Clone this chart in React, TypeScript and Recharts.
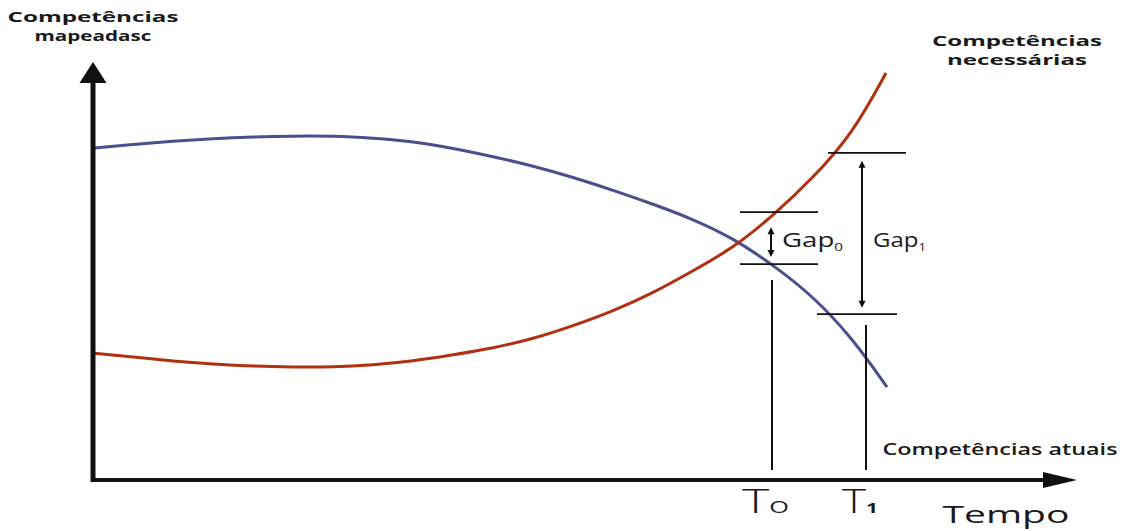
import { LineChart, Line, XAxis, YAxis, ReferenceLine, ReferenceDot } from "recharts";

// tempo (0-100) and nível de competência (0-100)
const timeMapped = [0, 4, 8, 12, 16, 20, 24, 28, 32, 36, 40, 44, 48, 52, 56, 60, 64, 68, 72, 76, 79.4];
const levelMapped = [79.0, 79.9, 80.7, 81.3, 81.7, 81.9, 81.9, 81.4, 80.6, 79.0, 77.0, 74.8, 72.1, 69.0, 65.7, 62.1, 57.6, 51.2, 43.8, 33.6, 22.1];
const timeNeeded = [0, 4, 8, 12, 16, 20, 24, 28, 32, 36, 40, 44, 48, 52, 56, 60, 64, 68, 72, 76, 79.3];
const levelNeeded = [30.2, 29.3, 28.3, 27.6, 27.1, 26.9, 26.9, 27.4, 28.3, 29.8, 31.4, 33.6, 36.7, 40.2, 44.5, 49.8, 55.2, 62.9, 71.9, 82.6, 96.9];

// T0 / T1 markers and the gaps measured at them
const moments = [67.9, 77.3];
const momentTop = [47.6, 36.9];
const gapTop = [63.8, 77.9];
const gapTopFrom = [64.7, 73.5];
const gapTopTo = [72.5, 81.3];
const gapBottom = [51.4, 39.5];
const gapBottomFrom = [64.7, 72.4];
const gapBottomTo = [72.5, 80.4];
const gapArrowX = [67.8, 76.9];
const gapArrowFrom = [60.2, 76.0];
const gapArrowTo = [53.1, 41.0];
const gapSub = ["0", "1"];
const gapLabelX = [68.9, 78.0];
const gapLabelW = [61, 53];

const mappedData = timeMapped.map((t, i) => ({ t, v: levelMapped[i] }));
const neededData = timeNeeded.map((t, i) => ({ t, v: levelNeeded[i] }));

const FONT = "'Open Sans', 'DejaVu Sans', sans-serif";

const arrowShape =
  (w: number, headLen: number, headHalf: number, both: boolean, color = "#111") =>
  (p: any) => {
    const { x1, y1, x2, y2 } = p;
    const len = Math.hypot(x2 - x1, y2 - y1) || 1;
    const ux = (x2 - x1) / len;
    const uy = (y2 - y1) / len;
    const head = (tx: number, ty: number, dx: number, dy: number) => {
      const bx = tx - dx * headLen;
      const by = ty - dy * headLen;
      return `${tx},${ty} ${bx - dy * headHalf},${by + dx * headHalf} ${bx + dy * headHalf},${by - dx * headHalf}`;
    };
    const sx = both ? x1 + ux * headLen * 0.8 : x1;
    const sy = both ? y1 + uy * headLen * 0.8 : y1;
    return (
      <g>
        <line x1={sx} y1={sy} x2={x2 - ux * headLen * 0.8} y2={y2 - uy * headLen * 0.8} stroke={color} strokeWidth={w} />
        <polygon points={head(x2, y2, ux, uy)} fill={color} />
        {both && <polygon points={head(x1, y1, -ux, -uy)} fill={color} />}
      </g>
    );
  };

const textShape =
  (text: string, size: number, weight: number, width: number, anchor = "middle") =>
  (p: any) => (
    <text
      x={p.cx}
      y={p.cy}
      textAnchor={anchor}
      fontSize={size}
      fontWeight={weight}
      fontFamily={FONT}
      fill="#1a1a1a"
      textLength={width}
      lengthAdjust="spacingAndGlyphs"
    >
      {text}
    </text>
  );

const App = () => {
  return (
    <div style={{ position: "fixed", left: 0, top: 0, background: "#fff" }}>
      <LineChart width={1138} height={531} margin={{ top: 60, right: 45, bottom: 51, left: 93 }}>
        <XAxis dataKey="t" type="number" domain={[0, 100]} hide allowDataOverflow />
        <YAxis type="number" domain={[0, 100]} hide allowDataOverflow />

        <Line data={mappedData} dataKey="v" type="basis" stroke="#4a4f8e" strokeWidth={3} dot={false} isAnimationActive={false} />
        <Line data={neededData} dataKey="v" type="basis" stroke="#b0300f" strokeWidth={3} dot={false} isAnimationActive={false} />

        {/* axes with arrow heads */}
        <ReferenceLine segment={[{ x: 0, y: -0.5 }, { x: 0, y: 99.5 }]} ifOverflow="visible" shape={arrowShape(5, 21, 13.5, false)} />
        <ReferenceLine segment={[{ x: -0.2, y: 0 }, { x: 98.4, y: 0 }]} ifOverflow="visible" shape={arrowShape(4, 34, 8, false)} />

        {moments.map((t, i) => (
          <ReferenceLine key={`m${i}`} segment={[{ x: t, y: 2.4 }, { x: t, y: momentTop[i] }]} ifOverflow="visible" stroke="#111" strokeWidth={2} />
        ))}
        {gapTop.map((v, i) => (
          <ReferenceLine key={`gt${i}`} segment={[{ x: gapTopFrom[i], y: v }, { x: gapTopTo[i], y: v }]} ifOverflow="visible" stroke="#111" strokeWidth={1.8} />
        ))}
        {gapBottom.map((v, i) => (
          <ReferenceLine key={`gb${i}`} segment={[{ x: gapBottomFrom[i], y: v }, { x: gapBottomTo[i], y: v }]} ifOverflow="visible" stroke="#111" strokeWidth={1.8} />
        ))}
        {gapArrowX.map((t, i) => (
          <ReferenceLine key={`ga${i}`} segment={[{ x: t, y: gapArrowFrom[i] }, { x: t, y: gapArrowTo[i] }]} ifOverflow="visible" shape={arrowShape(2, 7, 3.5, true)} />
        ))}

        {gapLabelX.map((t, i) => (
          <ReferenceDot
            key={`gl${i}`}
            x={t}
            y={55.5}
            r={0}
            ifOverflow="visible"
            shape={(p: any) => (
              <text x={p.cx} y={p.cy} fontFamily={FONT} fill="#1a1a1a" textLength={gapLabelW[i]} lengthAdjust="spacingAndGlyphs">
                <tspan fontSize={20}>Gap</tspan>
                <tspan fontSize={11} dy={4}>{gapSub[i]}</tspan>
              </text>
            )}
          />
        ))}

        {/* titles */}
        <ReferenceDot x={0} y={109.0} r={0} ifOverflow="visible" shape={textShape("Competências", 14, 700, 171)} />
        <ReferenceDot x={0} y={104.5} r={0} ifOverflow="visible" shape={textShape("mapeadasc", 14, 700, 117)} />
        <ReferenceDot x={92.4} y={103.3} r={0} ifOverflow="visible" shape={textShape("Competências", 14, 700, 170)} />
        <ReferenceDot x={92.4} y={98.8} r={0} ifOverflow="visible" shape={textShape("necessárias", 14, 700, 140)} />
        <ReferenceDot x={90.7} y={6.0} r={0} ifOverflow="visible" shape={textShape("Competências atuais", 17, 600, 235)} />
        <ReferenceDot x={91.3} y={-10.2} r={0} ifOverflow="visible" shape={textShape("Tempo", 23, 400, 127)} />

        <ReferenceDot
          x={64.9}
          y={-7.9}
          r={0}
          ifOverflow="visible"
          shape={(p: any) => (
            <text x={p.cx} y={p.cy} fontFamily={FONT} fill="#1a1a1a" textLength={47} lengthAdjust="spacingAndGlyphs">
              <tspan fontSize={33} fontWeight={300}>T</tspan>
              <tspan fontSize={16}>O</tspan>
            </text>
          )}
        />
        <ReferenceDot
          x={74.9}
          y={-7.9}
          r={0}
          ifOverflow="visible"
          shape={(p: any) => (
            <text x={p.cx} y={p.cy} fontFamily={FONT} fill="#1a1a1a" textLength={36} lengthAdjust="spacingAndGlyphs">
              <tspan fontSize={33} fontWeight={300}>T</tspan>
              <tspan fontSize={15} fontWeight={700}>1</tspan>
            </text>
          )}
        />
      </LineChart>
    </div>
  );
};

export default App;
